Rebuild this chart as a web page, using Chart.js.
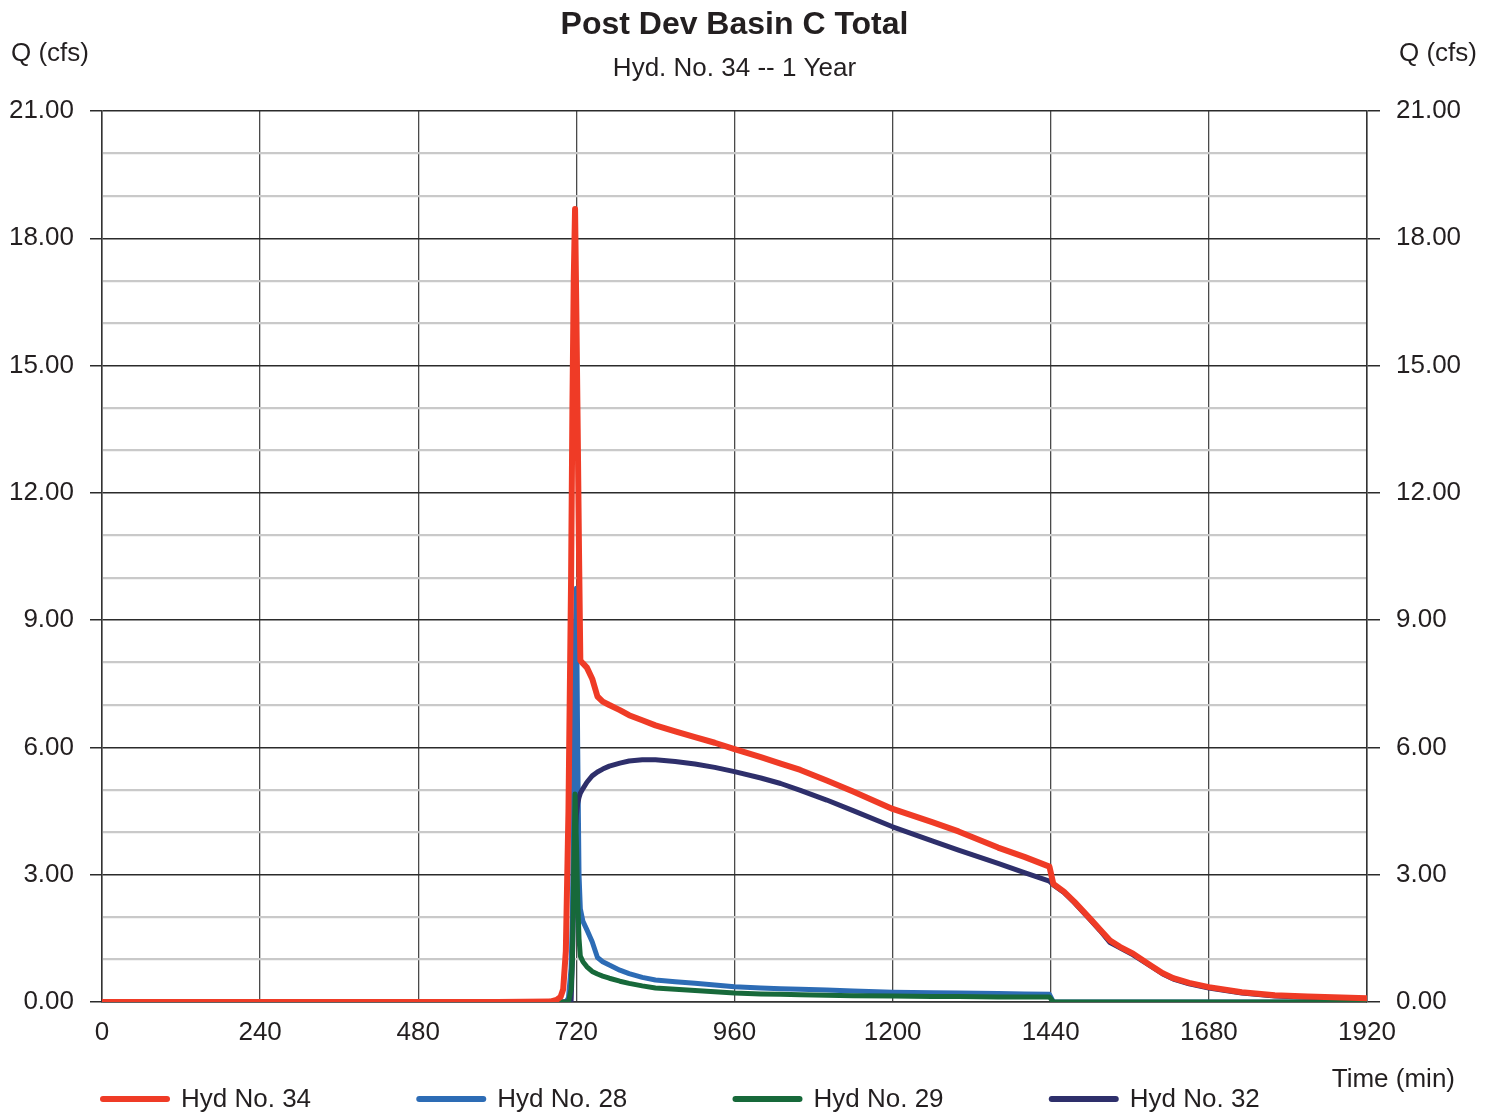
<!DOCTYPE html>
<html>
<head>
<meta charset="utf-8">
<title>Post Dev Basin C Total</title>
<script src="https://cdn.jsdelivr.net/npm/chart.js@4.4.1/dist/chart.umd.min.js"></script>
<style>
  html, body { margin: 0; padding: 0; background: #fff; }
  #wrap { position: relative; width: 1496px; height: 1112px; }
</style>
</head>
<body>
<div id="wrap"><canvas id="hydro"></canvas></div>
<script>
// time (min) shared by all hydrographs
const times = [
  0, 600, 680, 690, 696, 700, 704, 708, 712, 714, 716, 718, 720, 722, 724, 726,
  730, 736, 744, 752, 760, 770, 786, 800, 820, 840, 870, 900, 930, 960, 1000, 1030, 1060,
  1100, 1140, 1200, 1260, 1300, 1360, 1400, 1438, 1444,
  1460, 1476, 1500, 1515, 1530, 1545, 1565, 1590, 1610, 1626, 1650, 1680, 1730, 1780, 1830, 1920]

// flows (cfs)
const hyd34 = [
  0, 0, 0.01, 0.05, 0.12, 0.3, 1.2, 4.5, 10.0, 14.0, 17.0, 18.69, 16.2, 13.5, 10.6, 8.05,
  7.98, 7.88, 7.62, 7.2, 7.08, 7.0, 6.88, 6.76, 6.64, 6.52, 6.38, 6.24, 6.11, 5.96, 5.77, 5.62, 5.47,
  5.22, 4.96, 4.55, 4.24, 4.02, 3.64, 3.42, 3.19, 2.78,
  2.6, 2.36, 1.96, 1.7, 1.45, 1.3, 1.14, 0.88, 0.68, 0.56, 0.45, 0.35, 0.23, 0.16, 0.13, 0.09]
const hyd28 = [
  0, 0, 0, 0, 0, 0, 0, 0.1, 0.8, 2.0, 5.5, 8.5, 9.75, 6.0, 3.0, 2.2,
  1.9, 1.7, 1.42, 1.05, 0.95, 0.87, 0.75, 0.67, 0.58, 0.52, 0.48, 0.44, 0.4, 0.36, 0.33, 0.31, 0.3,
  0.28, 0.26, 0.23, 0.22, 0.21, 0.2, 0.19, 0.18, 0,
  0, 0, 0, 0, 0, 0, 0, 0, 0, 0, 0, 0, 0, 0, 0, 0]
const hyd29 = [
  0, 0, 0, 0, 0, 0, 0, 0, 0.3, 1.0, 3.2, 4.9, 3.8, 2.4, 1.5, 1.08,
  0.95, 0.83, 0.72, 0.66, 0.61, 0.56, 0.49, 0.44, 0.38, 0.33, 0.3, 0.27, 0.24, 0.21, 0.19, 0.18, 0.17,
  0.16, 0.15, 0.14, 0.13, 0.13, 0.12, 0.12, 0.12, 0,
  0, 0, 0, 0, 0, 0, 0, 0, 0, 0, 0, 0, 0, 0, 0, 0]
const hyd32 = [
  0, 0, 0, 0, 0, 0, 0, 0, 0, 1.0, 2.5, 3.8, 4.4, 4.68, 4.82, 4.92,
  5.03, 5.18, 5.33, 5.42, 5.49, 5.56, 5.63, 5.68, 5.71, 5.71, 5.67, 5.61, 5.53, 5.43, 5.28, 5.15, 4.99,
  4.76, 4.51, 4.13, 3.8, 3.58, 3.27, 3.05, 2.85, 2.76,
  2.58, 2.34, 1.94, 1.68, 1.4, 1.28, 1.11, 0.86, 0.66, 0.54, 0.43, 0.33, 0.21, 0.14, 0.11, 0.07]

const xTicks = [0, 240, 480, 720, 960, 1200, 1440, 1680, 1920]
const yMax = 21
const yMajorEvery = 3

const FONT = '"Liberation Sans", Arial, Helvetica, sans-serif'
const INK = '#231f20'

const pts = vals => vals.map((v, i) => ({ x: times[i], y: v }))

// order: lower number is painted on top
const series = [
  { label: 'Hyd No. 34', data: hyd34, color: '#ef3b26', width: 6, order: 0 },
  { label: 'Hyd No. 28', data: hyd28, color: '#2d6cb5', width: 5, order: 3 },
  { label: 'Hyd No. 29', data: hyd29, color: '#17693a', width: 5, order: 1 },
  { label: 'Hyd No. 32', data: hyd32, color: '#2e2f6b', width: 5, order: 2 },
]

// titles, axis captions and the legend row under the plot
const frameText = {
  id: 'frameText',
  afterDraw(chart) {
    const { ctx, chartArea: a } = chart
    const cx = (a.left + a.right) / 2
    ctx.save()
    ctx.fillStyle = INK
    ctx.textBaseline = 'alphabetic'

    ctx.textAlign = 'center'
    ctx.font = 'bold 32px ' + FONT
    ctx.fillText('Post Dev Basin C Total', cx, a.top - 77)
    ctx.font = '26px ' + FONT
    ctx.fillText('Hyd. No. 34 -- 1 Year', cx, a.top - 35)

    ctx.textAlign = 'left'
    ctx.fillText('Q (cfs)', 11, a.top - 50)
    ctx.textAlign = 'right'
    ctx.fillText('Q (cfs)', 1477, a.top - 50)
    ctx.fillText('Time (min)', 1455, a.bottom + 85)

    // legend
    const step = (a.right - a.left) / chart.data.datasets.length
    const ly = a.bottom + 97
    ctx.textAlign = 'left'
    ctx.textBaseline = 'middle'
    chart.data.datasets.forEach((ds, i) => {
      const x0 = a.left - 1 + i * step
      ctx.strokeStyle = ds.borderColor
      ctx.lineWidth = 6
      ctx.lineCap = 'round'
      ctx.beginPath()
      ctx.moveTo(x0 + 2, ly)
      ctx.lineTo(x0 + 66, ly)
      ctx.stroke()
      ctx.fillText(ds.label, x0 + 80, ly + 1)
    })
    ctx.restore()
  }
}

const isMajor = v => Math.round(v) % yMajorEvery === 0

const yCommon = {
  type: 'linear',
  min: 0,
  max: yMax,
  ticks: {
    stepSize: 1,
    autoSkip: false,
    padding: 16,
    color: INK,
    font: { family: FONT, size: 26 },
    callback: v => isMajor(v) ? v.toFixed(2) : '',
  },
}

new Chart(document.getElementById('hydro'), {
  type: 'line',
  data: {
    datasets: series.map(s => ({
      label: s.label,
      data: pts(s.data),
      borderColor: s.color,
      backgroundColor: s.color,
      borderWidth: s.width,
      borderJoinStyle: 'round',
      borderCapStyle: 'round',
      pointRadius: 0,
      tension: 0,
      fill: false,
      order: s.order,
    })),
  },
  options: {
    responsive: true,
    maintainAspectRatio: false,
    animation: false,
    devicePixelRatio: 1,
    layout: { padding: { top: 111, left: 0, right: 0, bottom: 0 } },
    plugins: {
      legend: { display: false },
      title: { display: false },
      tooltip: { enabled: false },
    },
    scales: {
      x: {
        type: 'linear',
        min: 0,
        max: 1920,
        afterBuildTicks: s => { s.ticks = xTicks.map(v => ({ value: v })) },
        afterFit: s => { s.height = 110 },
        ticks: {
          padding: 15,
          color: INK,
          maxRotation: 0,
          font: { family: FONT, size: 26 },
          callback: v => String(v),
        },
        grid: { color: '#4a4a4a', lineWidth: 1.3, drawTicks: false },
        border: { color: '#333', width: 1.5 },
      },
      y: {
        ...yCommon,
        position: 'left',
        afterFit: s => { s.width = 102 },
        grid: {
          color: c => isMajor(c.tick.value) ? '#2b2b2b' : '#c9c9c9',
          lineWidth: c => isMajor(c.tick.value) ? 1.5 : 2.2,
          tickColor: c => isMajor(c.tick.value) ? '#2b2b2b' : 'rgba(0,0,0,0)',
          tickLength: 12,
        },
        border: { color: '#333', width: 1.5 },
      },
      y2: {
        ...yCommon,
        position: 'right',
        afterFit: s => { s.width = 129 },
        grid: {
          drawOnChartArea: false,
          tickColor: c => isMajor(c.tick.value) ? '#2b2b2b' : 'rgba(0,0,0,0)',
          lineWidth: 1.5,
          tickLength: 13,
        },
        border: { color: '#333', width: 1.5 },
      },
    },
  },
  plugins: [frameText],
})
</script>
</body>
</html>
